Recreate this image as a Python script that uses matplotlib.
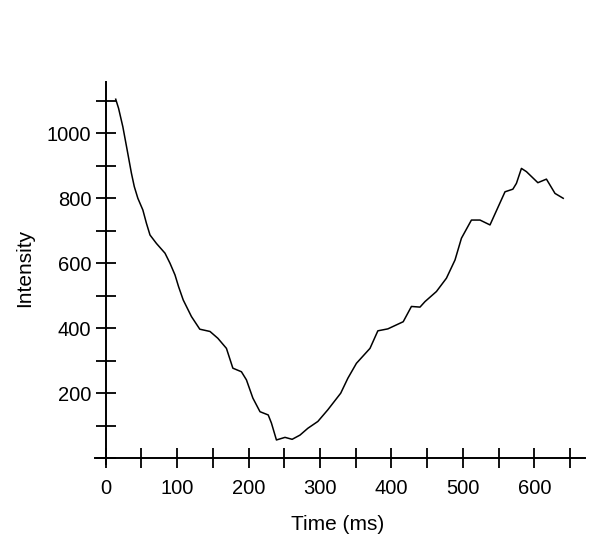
import matplotlib
matplotlib.use("Agg")
import matplotlib.pyplot as plt
from matplotlib.ticker import MultipleLocator

time_ms = [14, 18, 24, 30, 36, 40, 45, 52, 57, 62, 71, 83, 90, 97, 102,
           108.5, 120, 131.7, 146, 157, 169, 178, 190, 197, 206, 216, 227.5,
           232, 239, 251, 261, 272, 283, 297, 311, 329, 339, 351, 370, 381,
           395, 416.5, 428, 440, 447, 463, 477, 489, 498, 512, 524, 538, 559,
           570, 575, 582, 589, 605, 617, 629, 640.5]
intensity = [1105, 1077, 1020, 949, 877, 836, 800, 764, 723, 687, 661, 631,
             600, 564, 528, 487, 436, 397, 390, 369, 338, 277, 266, 241, 185,
             143, 133, 108, 56, 64, 58, 71, 92, 113, 149, 200, 246, 292, 338,
             392, 398, 420, 467, 465, 482, 513, 554, 610, 677, 733, 733, 718,
             820, 828, 846, 892, 882, 848, 859, 815, 800]

plt.rcParams['font.family'] = ['Liberation Sans', 'DejaVu Sans']

fig = plt.figure(figsize=(6, 5.56), dpi=100)
ax = fig.add_axes([95 / 600, 1 - 464 / 556, 490 / 600, 382 / 556])

ax.plot(time_ms, intensity, color="black", linewidth=1.1)

ax.set_xlim(-15, 671)
ax.set_ylim(-18, 1158)

for side in ['top', 'right']:
    ax.spines[side].set_visible(False)
ax.spines['left'].set_position(('data', 0))
ax.spines['bottom'].set_position(('data', 0))
for side in ['left', 'bottom']:
    ax.spines[side].set_linewidth(1.4)

ax.xaxis.set_major_locator(MultipleLocator(100))
ax.xaxis.set_minor_locator(MultipleLocator(50))
ax.yaxis.set_minor_locator(MultipleLocator(100))
ax.set_yticks([200, 400, 600, 800, 1000])

ax.tick_params(which='both', direction='inout', length=14, width=1.3,
               color='black')
ax.tick_params(axis='x', labelsize=14.5, pad=8)
ax.tick_params(axis='y', labelsize=14.5, pad=3.5)

fig.text(338 / 600, 1 - 524 / 556, "Time (ms)", ha='center', va='center',
         fontsize=15)
fig.text(25 / 600, 1 - 268 / 556, "Intensity", ha='center', va='center',
         rotation=90, fontsize=15)

fig.savefig("out.png", dpi=100)
